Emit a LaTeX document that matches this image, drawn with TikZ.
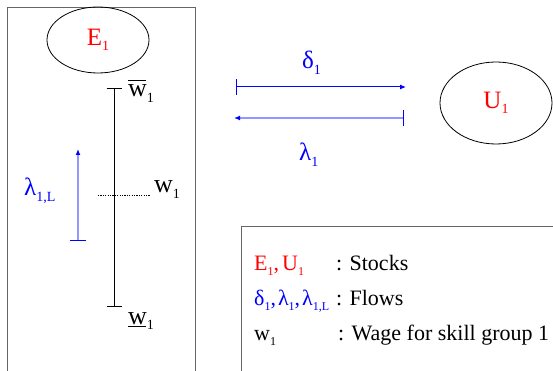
\documentclass[tikz,border=0pt]{standalone}
\usepackage{fontspec}
\setmainfont{Liberation Serif}
\usetikzlibrary{shapes.geometric,arrows.meta}
\newcommand{\sbs}[1]{\raisebox{-0.22em}{\fontsize{14}{14}\selectfont #1}}
\newcommand{\sbsm}[1]{\raisebox{-0.25em}{\fontsize{12}{12}\selectfont #1}}
\definecolor{lblue}{RGB}{150,150,255}
\begin{document}
\begin{tikzpicture}[x=1pt,y=-1pt,
  >={Latex[length=6pt,width=5pt,color=blue]},
  frame/.style={draw=black!60, line width=0.9pt},
  stock/.style={ellipse, draw, line width=0.8pt, inner sep=0pt, text=red, font=\fontsize{25}{25}\selectfont},
  lab/.style={font=\fontsize{25}{25}\selectfont, inner sep=0pt},
  wlab/.style={font=\fontsize{26}{26}\selectfont, inner sep=0pt, anchor=base west},
  leg/.style={font=\fontsize{22}{22}\selectfont, inner sep=0pt, anchor=base west}
]
\useasboundingbox (0,0) rectangle (553,371);
\fill[white] (0,0) rectangle (553,371);
% frames
\draw[frame] (7,372) -- (7,7) -- (195,7) -- (195,372);
\draw[frame] (241,372) -- (241,226) -- (554,226);
% stocks
\node[stock, minimum width=102pt, minimum height=66pt] (E) at (98,40) {E\sbs{1}};
\node[stock, minimum width=112pt, minimum height=82pt] (U) at (496,103) {U\sbs{1}};
% wage scale
\coordinate (wt) at (114,88);
\coordinate (wb) at (114,307);
\draw[line width=0.9pt, {Bar[width=15pt]}-{Bar[width=15pt]}] (wt) -- (wb);
\coordinate (dl) at (98,195);
\coordinate (dr) at (150,195);
\draw[dash pattern=on 1.2pt off 1.2pt, line width=0.8pt] (dl) -- (dr);
\node[wlab] (wbar) at (128,97) {\rlap{\raisebox{0.6em}{\rule{0.68em}{1pt}}}w\sbs{1}};
\node[wlab] (wmid) at (154,193) {w\sbs{1}};
\node[wlab] (wlow) at (128,324) {\rlap{\raisebox{-0.1em}{\rule{0.68em}{1pt}}}w\sbs{1}};
% lambda_1,L arrow
\coordinate (ls) at (78,241);
\coordinate (le) at (78,149);
\draw[lblue, line width=2pt, {Bar[width=16pt,line width=1.3pt,color=blue]}->] (ls) -- (le);
\node[lab, text=blue, anchor=base west] (lL) at (24,196) {λ\sbs{1,L}};
% horizontal flows
\coordinate (d1s) at (236,87);
\coordinate (d1e) at (406,87);
\draw[blue, line width=1pt, {Bar[width=16pt,line width=1.3pt]}->] (d1s) -- (d1e);
\coordinate (l1s) at (404,118);
\coordinate (l1e) at (234,118);
\draw[lblue, line width=2pt, {Bar[width=16pt,line width=1.3pt,color=blue]}->] (l1s) -- (l1e);
\node[lab, text=blue, anchor=base west] (dlab) at (302,69) {δ\sbs{1}};
\node[lab, text=blue, anchor=base west] (llab) at (299,161) {λ\sbs{1}};
% legend
\node[leg, text=red] (k1) at (254,270) {E\sbsm{1},\kern3pt U\sbsm{1}};
\node[leg] (v1) at (336,270) {: Stocks};
\node[leg, text=blue] (k2) at (254,305) {δ\sbsm{1},\kern2pt λ\sbsm{1},\kern2pt λ\sbsm{1,L}};
\node[leg] (v2) at (336,305) {: Flows};
\node[leg] (k3) at (254,340) {w\sbsm{1}};
\node[leg] (v3) at (338,340) {: Wage for skill group 1};
\end{tikzpicture}
\end{document}
